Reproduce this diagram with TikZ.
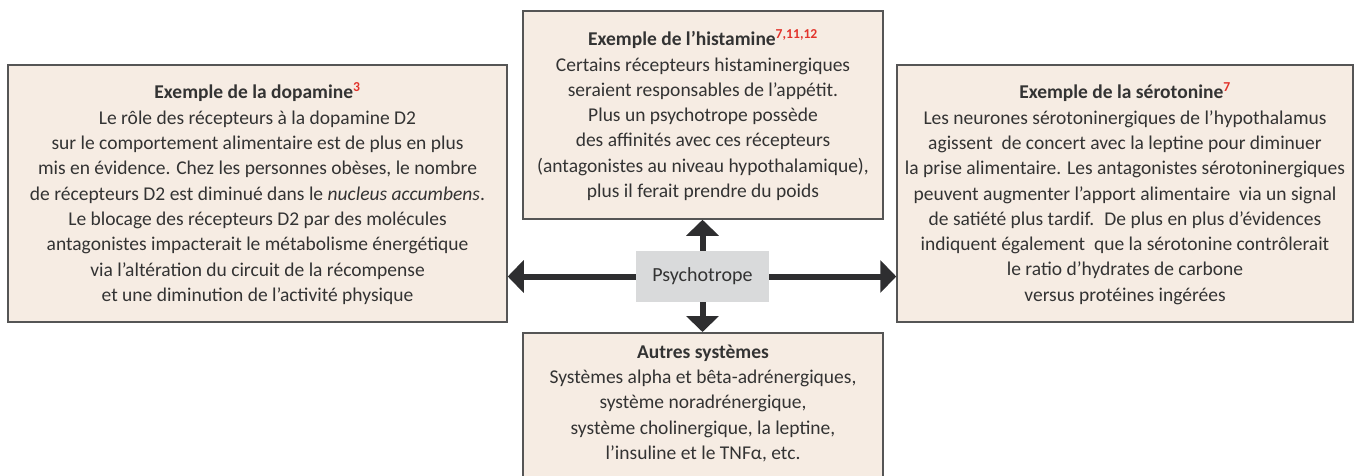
\documentclass[tikz,border=0pt]{standalone}
\usepackage{fontspec}
\setmainfont{Carlito}
\usetikzlibrary{arrows.meta}
\definecolor{boxfill}{HTML}{F6ECE3}
\definecolor{boxline}{HTML}{555555}
\definecolor{txt}{HTML}{333333}
\definecolor{refred}{HTML}{E2332B}
\definecolor{psyfill}{HTML}{D9DADB}
\definecolor{arrowcol}{HTML}{2E2E30}
\newcommand{\setup}{
    \coordinate (c0) at (257.5,193.5); % dopamine
    \coordinate (c1) at (703,115);     % histamine
    \coordinate (c2) at (1125,193.5);  % serotonine
    \coordinate (c3) at (703,332);     % autres (top edge)
    \coordinate (c4) at (702.5,276.5); % psychotrope
}
\newcommand{\refs}[1]{\textsuperscript{\bfseries\color{refred}#1}}
\tikzstyle{textbox}=[draw=boxline,fill=boxfill,line width=1.5pt,text=txt,
    align=center,font=\fontsize{19.5}{25.3}\selectfont,inner sep=0pt]
\tikzstyle{bigarrow}=[draw=arrowcol,line width=6pt,
    -{Triangle[length=16pt,width=32pt]}]
\begin{document}
\begin{tikzpicture}[x=1pt,y=-1pt]
          \useasboundingbox (0,0) rectangle (1365,475);
          \clip (0,0) rectangle (1365,475);
          \setup;

          \node[textbox,minimum width=499pt,minimum height=257pt] (dopa) at (c0) {%
            \textbf{Exemple de la dopamine}\refs{3}\\
            Le rôle des récepteurs à la dopamine D2\\
            sur le comportement alimentaire est de plus en plus\\
            mis en évidence. Chez les personnes obèses, le nombre\\
            de récepteurs D2 est diminué dans le \textit{nucleus accumbens}.\\
            Le blocage des récepteurs D2 par des molécules\\
            antagonistes impacterait le métabolisme énergétique\\
            via l’altération du circuit de la récompense\\
            et une diminution de l’activité physique};
          \node[textbox,minimum width=360pt,minimum height=208pt] (hista) at (c1) {%
            \textbf{Exemple de l’histamine}\refs{7,11,12}\\
            Certains récepteurs histaminergiques\\
            seraient responsables de l’appétit.\\
            Plus un psychotrope possède\\
            des affinités avec ces récepteurs\\
            (antagonistes au niveau hypothalamique),\\
            plus il ferait prendre du poids};
          \node[textbox,minimum width=456pt,minimum height=257pt] (sero) at (c2) {%
            \textbf{Exemple de la sérotonine}\refs{7}\\
            Les neurones sérotoninergiques de l’hypothalamus\\
            agissent~ de concert avec la leptine pour diminuer\\
            la prise alimentaire. Les antagonistes sérotoninergiques\\
            peuvent augmenter l’apport alimentaire~ via un signal\\
            de satiété plus tardif.~ De plus en plus d’évidences\\
            indiquent également~ que la sérotonine contrôlerait\\
            le ratio d’hydrates de carbone\\
            versus protéines ingérées};
          \node[textbox,anchor=north,minimum width=360pt,inner ysep=12pt,
                text depth=80pt] (autres) at (c3) {%
            \textbf{Autres systèmes}\\
            Systèmes alpha et bêta-adrénergiques,\\
            système noradrénergique,\\
            système cholinergique, la leptine,\\
            l’insuline et le TNFα, etc.};

          \node[fill=psyfill,minimum width=133pt,minimum height=51pt,text=txt,
                font=\fontsize{20}{22}\selectfont] (psy) at (c4) {Psychotrope};

          \draw[bigarrow] (psy.west) -- (psy.west -| dopa.east);
          \draw[bigarrow] (psy.east) -- (psy.east -| sero.west);
          \draw[bigarrow] (psy.north) -- (psy.north |- hista.south);
          \draw[bigarrow] (psy.south) -- (psy.south |- autres.north);
\end{tikzpicture}
\end{document}
